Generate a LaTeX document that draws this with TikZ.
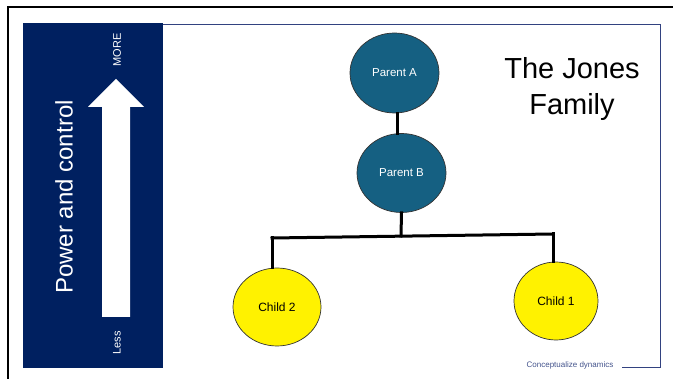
\documentclass[tikz,border=0pt]{standalone}
\usepackage{fontspec}
\setmainfont{Liberation Sans}
\usetikzlibrary{shapes.geometric}

\definecolor{panelblue}{RGB}{0,32,96}
\definecolor{parentblue}{RGB}{21,96,130}
\definecolor{slideline}{RGB}{50,66,128}
\definecolor{notegray}{RGB}{68,84,140}

\tikzset{
    parent/.style={ellipse, draw=black!80, line width=0.7pt, fill=parentblue,
        text=white, inner sep=0pt, font=\fontsize{11.5}{13}\selectfont},
    child/.style={ellipse, draw=black!80, line width=0.7pt, fill=yellow,
        inner sep=0pt, font=\fontsize{12}{14}\selectfont},
    link/.style={line width=3pt, line cap=rect}
}

\begin{document}
\begin{tikzpicture}[x=1pt, y=-1pt]
    \useasboundingbox (0,0) rectangle (673,379);

    % frame and slide
    \draw [line width=2pt] (673,7.5) -- (8,7.5) -- (8,379);
    \draw [slideline, line width=0.8pt] (163,24) -- (660,24) -- (660,367) -- (622,367);
    \fill [panelblue] (23,23) rectangle (163,368);

    % power arrow
    \fill [white] (102,317) -- (102,107) -- (88,107) -- (116,79) -- (144,107)
        -- (130,107) -- (130,317) -- cycle;
    \node (more) [rotate=90, text=white, font=\fontsize{11}{13}\selectfont] at (117,50) {MORE};
    \node (less) [rotate=90, text=white, font=\fontsize{11}{13}\selectfont] at (117,343) {Less};
    \node (power) [rotate=90, text=white, font=\fontsize{24}{28}\selectfont] at (64,197) {Power and control};

    % family
    \node (pa) [parent, minimum width=89pt, minimum height=80pt] at (394.5,73) {Parent A};
    \node (pb) [parent, minimum width=89pt, minimum height=79pt] at (401.5,173) {Parent B};
    \node (c2) [child, minimum width=88pt, minimum height=78pt] at (277,307) {Child 2};
    \node (c1) [child, minimum width=84pt, minimum height=78pt] at (556,301) {Child 1};

    \coordinate (AB) at (397,123);
    \coordinate (M) at (401,236);
    \coordinate (L) at (272,238);
    \coordinate (R) at (553,234);

    \draw [link] (AB |- pa.south) -- (AB |- pb.north);
    \draw [link] (pb.south) -- (M);
    \draw [link] (L) -- (R);
    \draw [link] (L) -- (L |- c2.north);
    \draw [link] (R) -- (R |- c1.north);

    \node (title) [align=center, font=\fontsize{29}{36}\selectfont] at (572,89) {The Jones\\Family};
    \node (note) [text=notegray, font=\fontsize{8}{10}\selectfont] at (570,365) {Conceptualize dynamics};
\end{tikzpicture}
\end{document}
